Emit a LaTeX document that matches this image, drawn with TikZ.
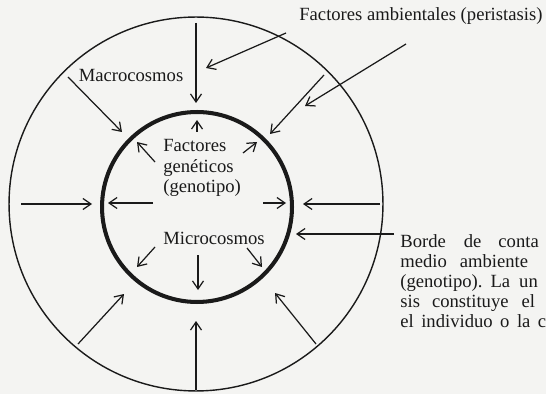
\documentclass[tikz,border=0pt]{standalone}
\usepackage{fontspec}
\setmainfont{Liberation Serif}
\usetikzlibrary{arrows.meta}
\definecolor{paper}{HTML}{F4F4F2}
\definecolor{ink}{HTML}{1A1A1A}

\begin{document}
\begin{tikzpicture}[
  x=0.02cm, y=-0.02cm,
  >={Straight Barb[length=1.6mm, width=2.2mm]},
  lbl/.style={inner sep=0pt, text=ink, font=\fontsize{10.6}{11.6}\selectfont},
  arr/.style={->, line width=0.7pt, ink},
  ring/.style={draw=ink, circle, inner sep=0pt},
]

% Background
\clip (0,0) rectangle (546,394);
\fill[paper] (0,0) rectangle (546,394);

% =============================================
% Circles: macrocosmos and microcosmos
% =============================================
\node[ring, line width=0.8pt, minimum size=7.48cm] (outer) at (196,204) {};
\node[ring, line width=2.3pt, minimum size=3.80cm] (inner) at (197,207) {};

% =============================================
% Labels
% =============================================
\node[lbl, anchor=base west] (ambient) at (299,21)
  {Factores ambientales (peristasis)};
\node[lbl] (macro) at (131,75) {Macrocosmos};
\node[lbl, anchor=west, align=left] (gene) at (163,168)
  {Factores\\ genéticos\\ (genotipo)};
\node[lbl, anchor=west] (micro) at (163,238) {Microcosmos};
\node[lbl, anchor=west, align=left, font=\fontsize{10.6}{11.4}\selectfont] (borde) at (400,281)
  {Borde\hspace{0.36cm}de\hspace{0.34cm}conta\\
   medio\hspace{0.26cm}ambiente\\
   (genotipo).\hspace{0.16cm}La\hspace{0.18cm}un\\
   sis\hspace{0.24cm}constituye\hspace{0.26cm}el\\
   el\hspace{0.15cm}individuo\hspace{0.15cm}o\hspace{0.15cm}la\hspace{0.15cm}c};

% =============================================
% Environment arrows (outer ring, pointing in)
% =============================================
\draw[arr] (196,23) -- (196,103);
\draw[arr] (68,77) -- (122,132);
\draw[arr] (324,75) -- (270,134);
\draw[arr] (21,204) -- (92,204);
\draw[arr] (380,204) -- (303,204);
\draw[arr] (78,344) -- (124,294);
\draw[arr] (196,390) -- (196,321);
\draw[arr] (316,344) -- (275,293);

% =============================================
% Genetic arrows (inside, pointing out)
% =============================================
\draw[arr] (197,132) -- (197,120);
\draw[arr] (155,162) -- (137,142);
\draw[arr] (243,153) -- (257,142);
\draw[arr] (153,203) -- (108,203);
\draw[arr] (263,203) -- (286,203);
\draw[arr] (155,247) -- (137,267);
\draw[arr] (198,255) -- (198,290);
\draw[arr] (247,248) -- (262,267);

% =============================================
% Pointers from the texts
% =============================================
\coordinate (ambA) at (286,33);
\coordinate (ambB) at (406,44);
\coordinate (tipA) at (206,68);
\coordinate (tipB) at (305,106);
\draw[arr] (ambA) -- (tipA);
\draw[arr] (ambB) -- (tipB);

\coordinate (bordeA) at (394,234);
\coordinate (tipC) at (296,234);
\draw[arr] (bordeA) -- (tipC);

\end{tikzpicture}
\end{document}
